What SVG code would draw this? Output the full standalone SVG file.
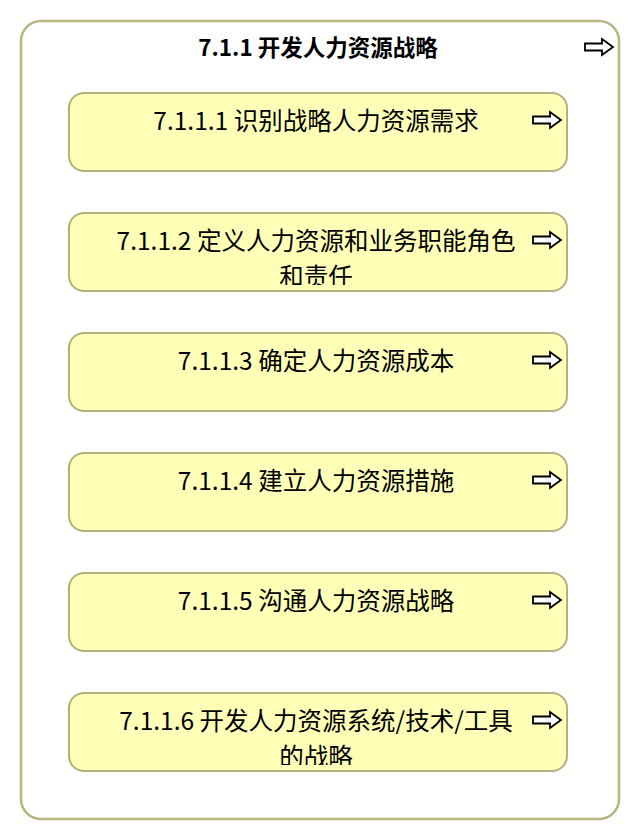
<svg xmlns="http://www.w3.org/2000/svg" width="640" height="840" viewBox="0 0 640 840">
<style>
.outer{fill:#ffffff;stroke:#b7b57f;stroke-width:2.5}
.box{fill:#ffffb8;stroke:#b3b07a;stroke-width:2}
.t{font-family:"Noto Sans CJK SC","Liberation Sans",sans-serif;font-size:24.5px;fill:#000;text-anchor:middle}
.title{font-weight:bold;font-size:22.5px}
.arr{fill:#fff;stroke:#000;stroke-width:1.8;stroke-linejoin:miter}
</style>
<defs>
<path id="arrow" d="M0,-3.5 H17 V-8 L28,0 L17,8 V3.5 H0 Z"/>
<clipPath id="c2"><rect x="69" y="213" width="498" height="72"/></clipPath>
<clipPath id="c6"><rect x="69" y="693" width="498" height="72"/></clipPath>
</defs>
<g id="n711">
<rect class="outer" x="21" y="21" width="598" height="798" rx="20"/>
<text class="t title" x="318" y="56">7.1.1 开发人力资源战略</text>
<use href="#arrow" class="arr" x="585" y="47"/>
</g>
<g id="n7111">
<rect class="box" x="69" y="93" width="498" height="78" rx="15"/>
<text class="t" x="316" y="130">7.1.1.1 识别战略人力资源需求</text>
<use href="#arrow" class="arr" x="533" y="120"/>
</g>
<g id="n7112">
<rect class="box" x="69" y="213" width="498" height="78" rx="15"/>
<g clip-path="url(#c2)">
<text class="t" x="316" y="250">7.1.1.2 定义人力资源和业务职能角色</text>
<text class="t" x="316" y="286">和责任</text>
</g>
<use href="#arrow" class="arr" x="533" y="240"/>
</g>
<g id="n7113">
<rect class="box" x="69" y="333" width="498" height="78" rx="15"/>
<text class="t" x="316" y="370">7.1.1.3 确定人力资源成本</text>
<use href="#arrow" class="arr" x="533" y="360"/>
</g>
<g id="n7114">
<rect class="box" x="69" y="453" width="498" height="78" rx="15"/>
<text class="t" x="316" y="490">7.1.1.4 建立人力资源措施</text>
<use href="#arrow" class="arr" x="533" y="480"/>
</g>
<g id="n7115">
<rect class="box" x="69" y="573" width="498" height="78" rx="15"/>
<text class="t" x="316" y="610">7.1.1.5 沟通人力资源战略</text>
<use href="#arrow" class="arr" x="533" y="600"/>
</g>
<g id="n7116">
<rect class="box" x="69" y="693" width="498" height="78" rx="15"/>
<g clip-path="url(#c6)">
<text class="t" x="316" y="730">7.1.1.6 开发人力资源系统/技术/工具</text>
<text class="t" x="316" y="766">的战略</text>
</g>
<use href="#arrow" class="arr" x="533" y="720"/>
</g>
<g id="connectors"></g>
</svg>
